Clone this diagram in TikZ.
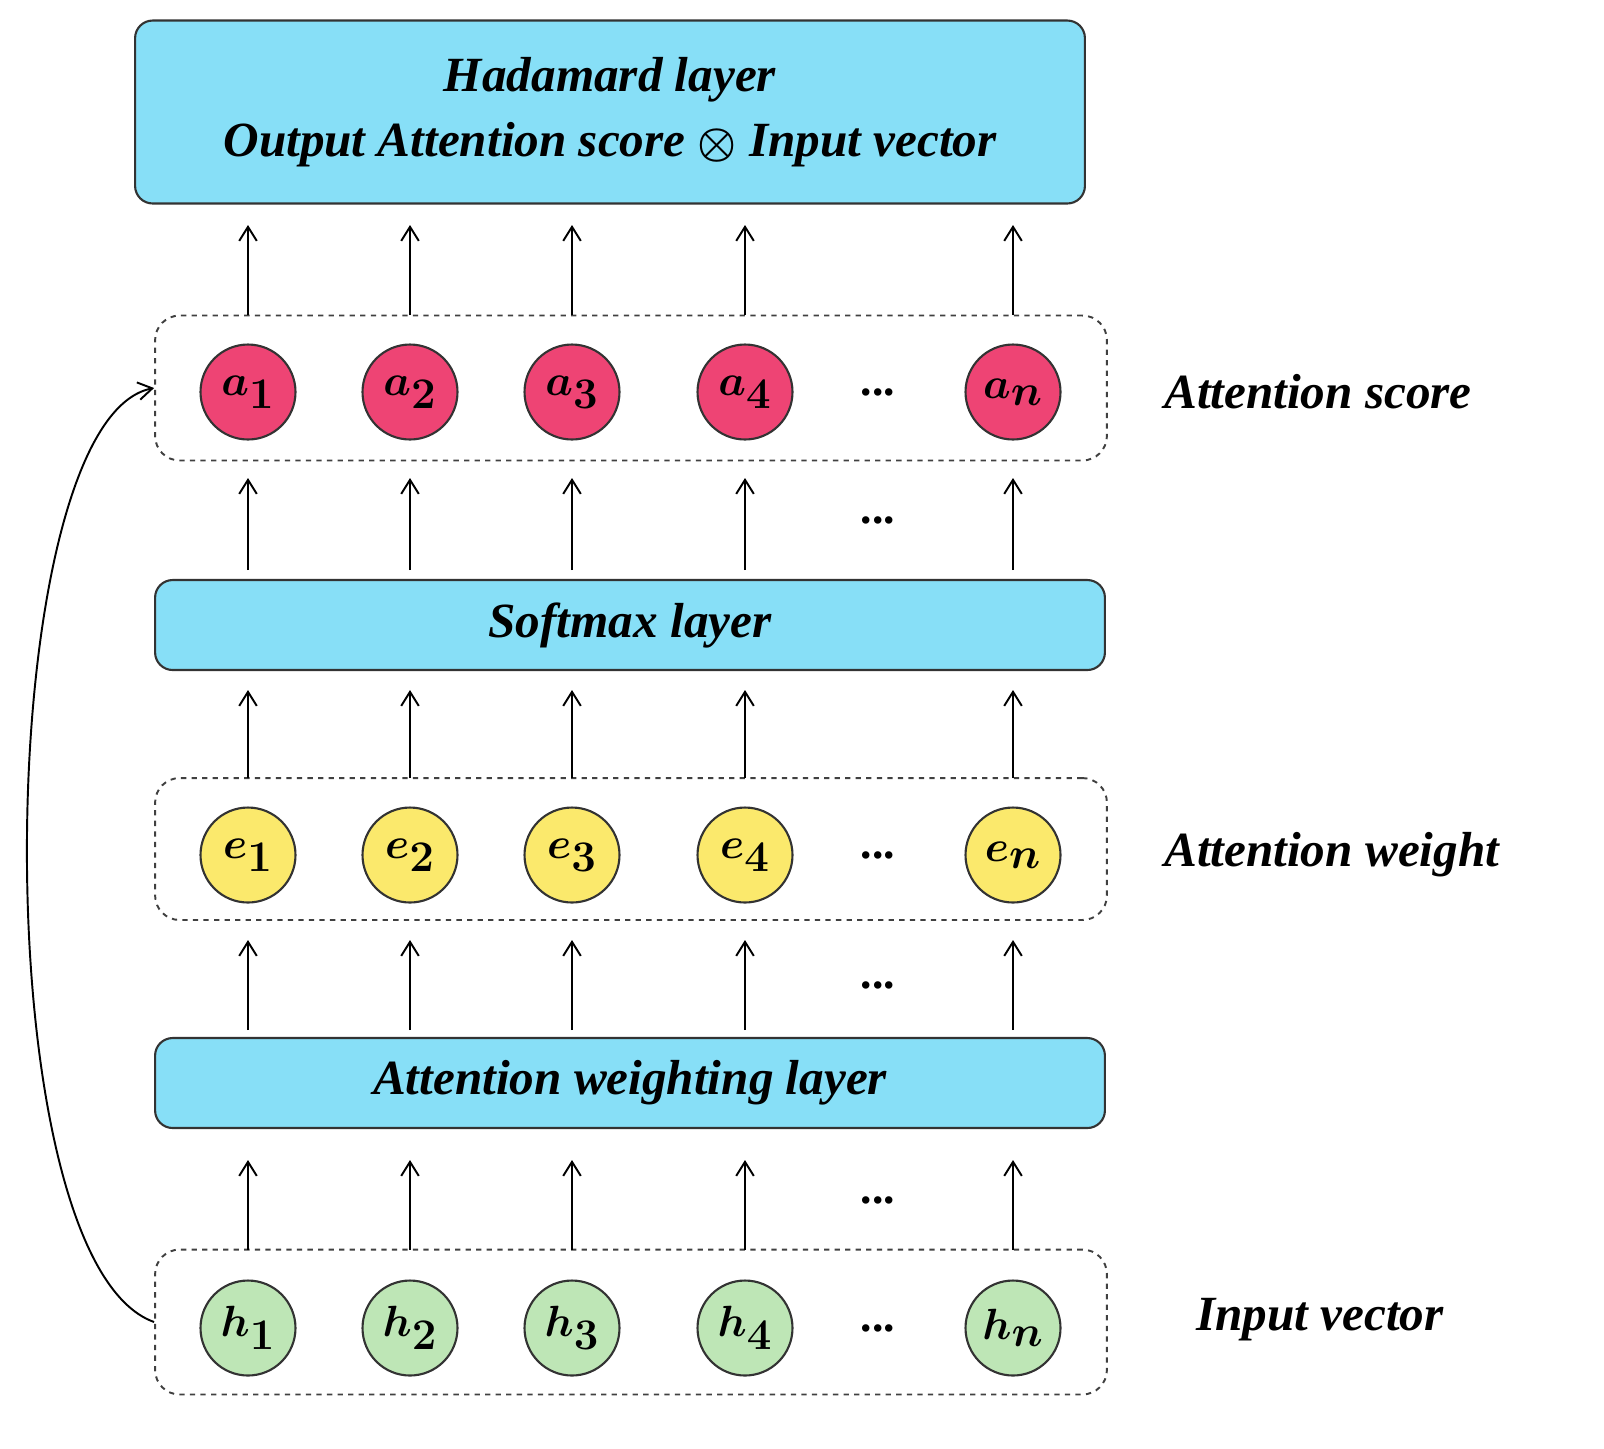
\documentclass[tikz,border=0pt]{standalone}
\usepackage{amsmath,bm}
\usepackage{fontspec}
\setmainfont{Liberation Serif}
\usetikzlibrary{arrows.meta}
\definecolor{boxc}{HTML}{87DFF7}
\definecolor{redc}{HTML}{EE4474}
\definecolor{yelc}{HTML}{FBE96C}
\definecolor{grnc}{HTML}{BEE6B6}
\begin{document}
\begin{tikzpicture}[x=0.02cm,y=-0.02cm,
  layer/.style={draw=black!80,line width=1.2pt,fill=boxc,rounded corners=10pt,inner sep=0pt},
  grp/.style={draw=black!75,dashed,line width=1.1pt,rounded corners=14pt},
  cir/.style={circle,draw=black!80,line width=1.2pt,minimum size=1.9cm,inner sep=0pt,font=\fontsize{36}{40}\selectfont},
  lab/.style={font=\fontsize{28}{33}\selectfont\bfseries\itshape},
  arr/.style={->,line width=1.1pt,>={Straight Barb[length=8pt,width=10pt]}},
  dots/.style={font=\fontsize{26}{30}\selectfont\bfseries}]
\useasboundingbox (0,0) rectangle (1604,1448);
% layers
\node[layer,minimum width=19cm,minimum height=3.66cm,align=center,lab] (had) at (610,112)
 {Hadamard layer\\[4pt] Output Attention score $\bm{\otimes}$ Input vector};
\node[layer,minimum width=19cm,minimum height=1.8cm,lab] (soft) at (630,625) {Softmax layer};
\node[layer,minimum width=19cm,minimum height=1.8cm,lab] (aw) at (630,1083) {Attention weighting layer};
% groups
\node[grp,minimum width=19.04cm,minimum height=2.9cm] (ga) at (631,388) {};
\node[grp,minimum width=19.04cm,minimum height=2.84cm] (ge) at (631,849) {};
\node[grp,minimum width=19.04cm,minimum height=2.9cm] (gh) at (631,1322) {};
% circles
\foreach \x/\i [count=\k] in {248/1,410/2,572/3,745/4,1013/n}{
  \node[cir,fill=redc] (a\k) at (\x,392) {$\bm{a_{\i}}$};
  \node[cir,fill=yelc] (e\k) at (\x,855) {$\bm{e_{\i}}$};
  \node[cir,fill=grnc] (h\k) at (\x,1328) {$\bm{h_{\i}}$};
  \coordinate (t1\k) at (\x,315); \coordinate (t2\k) at (\x,225);
  \draw[arr] (t1\k) -- (t2\k);
  \coordinate (s1\k) at (\x,570); \coordinate (s2\k) at (\x,478);
  \draw[arr] (s1\k) -- (s2\k);
  \coordinate (u1\k) at (\x,778); \coordinate (u2\k) at (\x,690);
  \draw[arr] (u1\k) -- (u2\k);
  \coordinate (v1\k) at (\x,1030); \coordinate (v2\k) at (\x,940);
  \draw[arr] (v1\k) -- (v2\k);
  \coordinate (w1\k) at (\x,1250); \coordinate (w2\k) at (\x,1160);
  \draw[arr] (w1\k) -- (w2\k);
}
\foreach \y/\n in {392/d1,520/d2,855/d3,985/d4,1200/d5,1328/d6}
  \node[dots] (\n) at (878,\y) {...};
% labels
\node[lab,anchor=west] (l1) at (1158,392) {Attention score};
\node[lab,anchor=west] (l2) at (1158,855) {Attention weight};
\node[lab,anchor=west] (l3) at (1190,1320) {Input vector};
% skip connection
\draw[arr] (gh.west) .. controls (-20,1260) and (-10,420) .. (ga.west);
\end{tikzpicture}
\end{document}
